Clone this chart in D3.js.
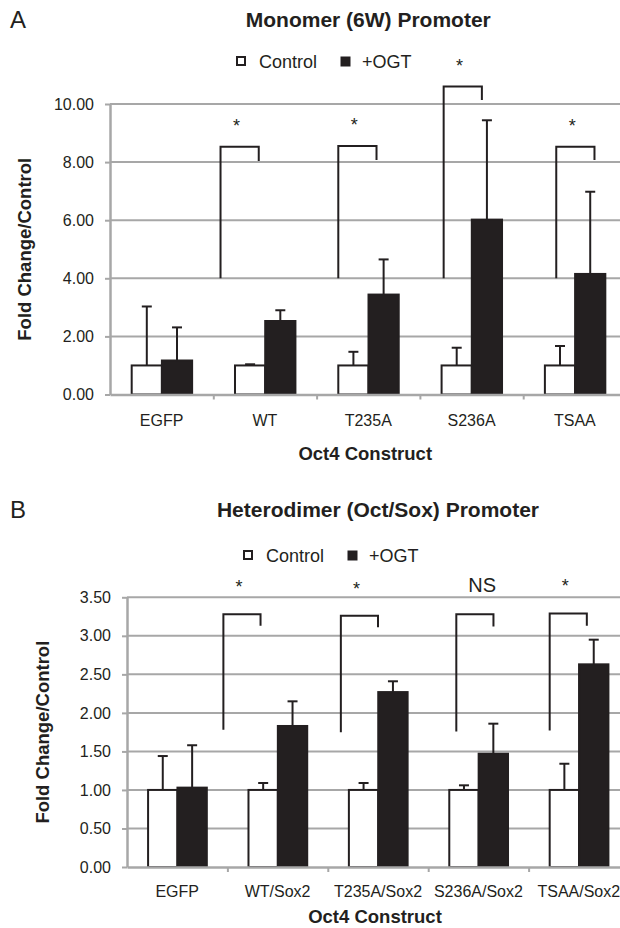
<!DOCTYPE html>
<html>
<meta charset="UTF-8">
<script src="https://d3js.org/d3.v7.min.js"></script>
<style>
  body { margin: 0; background: #fff; }
  text { font-family: "Liberation Sans", Arial, sans-serif; fill: #231f20; }
</style>
<body>
<script>

// ---- panel A : Monomer (6W) promoter ----
var catsA = ["EGFP", "WT", "T235A", "S236A", "TSAA"];
var ctrlA = [1.00, 1.00, 1.00, 1.00, 1.00];
var ctrlErrA = [2.03, 0.04, 0.47, 0.61, 0.67];
var ogtA = [1.17, 2.53, 3.44, 6.02, 4.15];
var ogtErrA = [1.14, 0.37, 1.21, 3.42, 2.83];
var ticksA = [0, 2, 4, 6, 8, 10];
// significance brackets: category, base, top, right end, label, left (fraction of band)
var brCatA = ["WT", "T235A", "S236A", "TSAA"];
var brBaseA = [4.0, 4.0, 4.0, 4.0];
var brTopA = [8.53, 8.55, 10.6, 8.53];
var brEndA = [8.04, 8.07, 10.14, 8.07];
var brLabA = ["*", "*", "*", "*"];
var brLeftA = [0.07, 0.21, 0.23, 0.32];

// ---- panel B : Heterodimer (Oct/Sox) promoter ----
var catsB = ["EGFP", "WT/Sox2", "T235A/Sox2", "S236A/Sox2", "TSAA/Sox2"];
var ctrlB = [1.00, 1.00, 1.00, 1.00, 1.00];
var ctrlErrB = [0.44, 0.09, 0.09, 0.06, 0.34];
var ogtB = [1.03, 1.83, 2.27, 1.47, 2.63];
var ogtErrB = [0.55, 0.32, 0.14, 0.39, 0.32];
var ticksB = [0, 0.5, 1, 1.5, 2, 2.5, 3, 3.5];
var brCatB = ["WT/Sox2", "T235A/Sox2", "S236A/Sox2", "TSAA/Sox2"];
var brBaseB = [1.78, 1.75, 1.76, 1.77];
var brTopB = [3.28, 3.26, 3.28, 3.29];
var brEndB = [3.13, 3.11, 3.12, 3.13];
var brLabB = ["*", "*", "NS", "*"];
var brLeftB = [-0.04, 0.13, 0.28, 0.21];

var ink = "#231f20", grid = "#a7a7a7";

var svg = d3.select("body").append("svg")
    .attr("width", 620).attr("height", 928);

function panel(o) {
  var g = svg.append("g");

  var x = d3.scaleBand().domain(o.cats).range([o.x0, o.x1]);
  var xi = d3.scaleLinear().domain([0, o.cats.length]).range([o.x0, o.x1]);
  var bw = x.bandwidth();
  var xs = d3.scaleBand().domain(["ctrl", "ogt"]).range([0.21 * bw, 0.795 * bw]);
  var y = d3.scaleLinear().domain([0, o.ymax]).range([o.yb, o.yt]);
  var mid = (o.x0 + o.x1) / 2;

  // letter + title
  g.append("text").attr("x", 10).attr("y", o.letterY)
    .style("font-size", "24px").text(o.letter);
  g.append("text").attr("x", mid).attr("y", o.titleY)
    .attr("text-anchor", "middle").style("font-size", "21px").style("font-weight", "bold")
    .text(o.title);

  // legend
  var lg = g.append("g").attr("transform", "translate(" + o.legX + "," + o.legY + ")");
  lg.append("rect").attr("x", 1).attr("y", -4).attr("width", 8).attr("height", 8)
    .attr("fill", "#fff").attr("stroke", ink).attr("stroke-width", 2);
  lg.append("text").attr("x", 23).attr("y", 6.5).style("font-size", "18px").text("Control");
  lg.append("rect").attr("x", 105).attr("y", -4).attr("width", 9).attr("height", 9)
    .attr("fill", ink).attr("stroke", ink).attr("stroke-width", 1);
  lg.append("text").attr("x", 126).attr("y", 6.5).style("font-size", "18px").text("+OGT");

  // gridlines
  g.append("g").selectAll("line").data(o.ticks.filter(function(d) { return d > 0; }))
    .join("line")
    .attr("x1", o.x0).attr("x2", 620)
    .attr("y1", function(d) { return y(d); }).attr("y2", function(d) { return y(d); })
    .attr("stroke", grid).attr("stroke-width", 2);

  // bars
  var rows = o.cats.map(function(c, i) {
    return [{c: c, s: "ctrl", v: o.ctrl[i], e: o.ctrlErr[i]},
            {c: c, s: "ogt", v: o.ogt[i], e: o.ogtErr[i]}];
  }).flat();

  g.append("g").selectAll("rect").data(rows).join("rect")
    .attr("x", function(d) { return x(d.c) + xs(d.s); })
    .attr("width", xs.bandwidth())
    .attr("y", function(d) { return y(d.v); })
    .attr("height", function(d) { return y(0) - y(d.v); })
    .attr("fill", function(d) { return d.s == "ogt" ? ink : "#fff"; })
    .attr("stroke", ink).attr("stroke-width", 2);

  // error bars (upper only)
  var eb = g.append("g").attr("stroke", ink).attr("stroke-width", 2);
  eb.selectAll(".stem").data(rows).join("line").attr("class", "stem")
    .attr("x1", function(d) { return x(d.c) + xs(d.s) + xs.bandwidth() / 2; })
    .attr("x2", function(d) { return x(d.c) + xs(d.s) + xs.bandwidth() / 2; })
    .attr("y1", function(d) { return y(d.v); })
    .attr("y2", function(d) { return y(d.v + d.e); });
  eb.selectAll(".cap").data(rows).join("line").attr("class", "cap")
    .attr("x1", function(d) { return x(d.c) + xs(d.s) + xs.bandwidth() / 2 - 5; })
    .attr("x2", function(d) { return x(d.c) + xs(d.s) + xs.bandwidth() / 2 + 5; })
    .attr("y1", function(d) { return y(d.v + d.e); })
    .attr("y2", function(d) { return y(d.v + d.e); });

  // y axis
  var ya = g.append("g").attr("transform", "translate(" + o.x0 + ",0)")
    .call(d3.axisLeft(y).tickValues(o.ticks).tickFormat(d3.format(".2f"))
      .tickSize(5).tickSizeOuter(0).tickPadding(11));
  ya.select(".domain").attr("stroke", grid).attr("stroke-width", 2.5);
  ya.selectAll(".tick line").attr("stroke", grid).attr("stroke-width", 2);
  ya.selectAll("text").style("font-size", "16px").attr("fill", ink);

  // x axis: ticks at band edges, labels at centres
  var xt = g.append("g").attr("transform", "translate(0," + y(0) + ")")
    .call(d3.axisBottom(xi).tickValues(d3.range(1, o.cats.length + 1))
      .tickFormat("").tickSize(5).tickSizeOuter(0));
  xt.select(".domain").attr("stroke", grid).attr("stroke-width", 2.5);
  xt.selectAll(".tick line").attr("stroke", grid).attr("stroke-width", 2);

  var xl = g.append("g").attr("transform", "translate(0," + y(0) + ")")
    .call(d3.axisBottom(x).tickSize(0).tickPadding(o.xPad));
  xl.select(".domain").remove();
  xl.selectAll("text").style("font-size", "16px").attr("fill", ink);

  // axis titles
  g.append("text").attr("x", mid - 3).attr("y", o.xTitleY)
    .attr("text-anchor", "middle").style("font-size", "18.5px").style("font-weight", "bold")
    .text("Oct4 Construct");
  g.append("text")
    .attr("transform", "translate(" + o.yTitleX + "," + (o.yt + o.yb) / 2 + ") rotate(-90)")
    .attr("text-anchor", "middle").style("font-size", "18.5px").style("font-weight", "bold")
    .text("Fold Change/Control");

  // significance brackets
  var br = o.brCat.map(function(c, i) {
    return {c: c, base: o.brBase[i], top: o.brTop[i], end: o.brEnd[i],
            lab: o.brLab[i], left: o.brLeft[i]};
  });
  g.append("g").selectAll("path").data(br).join("path")
    .attr("d", function(d) {
      var l = x(d.c) + d.left * bw;
      return "M" + l + "," + y(d.base) + "V" + y(d.top) + "H" + (l + 0.37 * bw) + "V" + y(d.end);
    })
    .attr("fill", "none").attr("stroke", ink).attr("stroke-width", 2);
  g.append("g").selectAll("text").data(br).join("text")
    .attr("x", function(d) { return x(d.c) + d.left * bw + 0.12 * bw; })
    .attr("y", function(d) { return y(d.top) - (d.lab == "NS" ? o.nsOff : o.starOff); })
    .style("font-size", function(d) { return d.lab == "NS" ? "20px" : "18px"; })
    .text(function(d) { return d.lab; });
}

panel({
  letter: "A", letterY: 28, title: "Monomer (6W) Promoter", titleY: 27,
  legX: 236, legY: 61,
  cats: catsA, ctrl: ctrlA, ctrlErr: ctrlErrA, ogt: ogtA, ogtErr: ogtErrA,
  ticks: ticksA, ymax: 10,
  x0: 110, x1: 626.5, yt: 104, yb: 394.5, xPad: 20, xTitleY: 460, yTitleX: 31,
  brCat: brCatA, brBase: brBaseA, brTop: brTopA, brEnd: brEndA, brLab: brLabA, brLeft: brLeftA,
  starOff: 15, nsOff: 21
});

panel({
  letter: "B", letterY: 518, title: "Heterodimer (Oct/Sox) Promoter", titleY: 517,
  legX: 243, legY: 555,
  cats: catsB, ctrl: ctrlB, ctrlErr: ctrlErrB, ogt: ogtB, ogtErr: ogtErrB,
  ticks: ticksB, ymax: 3.5,
  x0: 127, x1: 629, yt: 597.3, yb: 867, xPad: 19, xTitleY: 923, yTitleX: 49,
  brCat: brCatB, brBase: brBaseB, brTop: brTopB, brEnd: brEndB, brLab: brLabB, brLeft: brLeftB,
  starOff: 21, nsOff: 22
});

</script>
</body>
</html>
